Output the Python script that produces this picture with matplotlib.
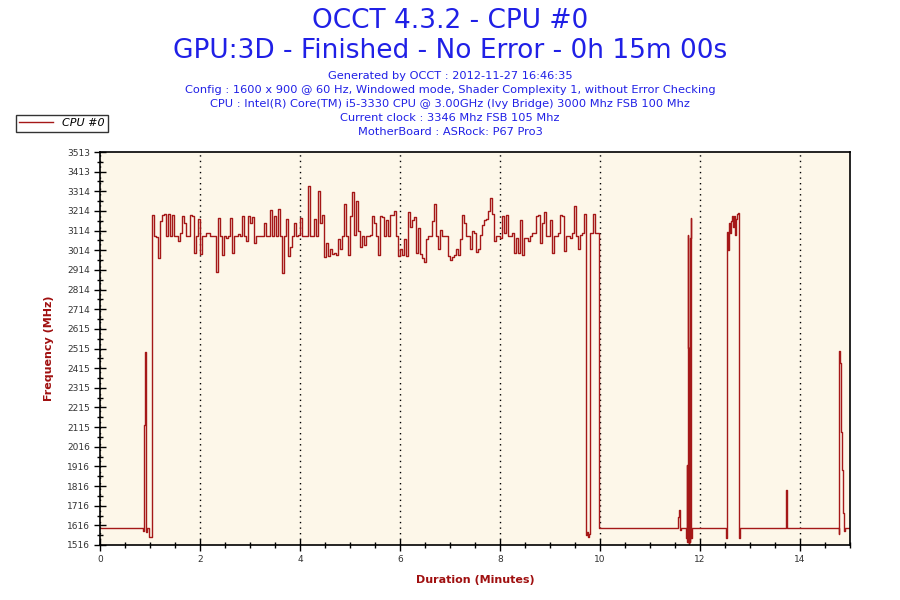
import numpy as np
import matplotlib.pyplot as plt
from matplotlib.ticker import FixedLocator, MultipleLocator

# Ramp-up at the start of the test (minutes, MHz)
start_min = [0.00, 0.86, 0.87, 0.89, 0.91, 0.92, 0.93, 0.98, 1.03]
start_mhz = [1600, 1585, 2126, 2498, 2314, 1580, 1600, 1555, 2959]

# Loaded part of the run, one reading every 0.04 min starting at 1.04 min
busy_start = 1.04
busy_step = 0.04
busy_mhz = [
    3193, 3085, 3080, 2975, 3160, 3193, 3200, 3085, 3200, 3085,
    3195, 3085, 3085, 3060, 3100, 3190, 3150, 3085, 3085, 3195,
    3190, 3000, 3085, 3175, 2995, 3085, 3085, 3100, 3100, 3085,
    3085, 3085, 2905, 3180, 3085, 2990, 3085, 3075, 3085, 3180,
    3000, 3085, 3085, 3095, 3085, 3190, 3085, 3060, 3190, 3150,
    3185, 3050, 3085, 3085, 3085, 3085, 3150, 3085, 3085, 3220,
    3085, 3190, 3085, 3225, 3085, 2900, 3085, 3175, 2985, 3030,
    3085, 3150, 3085, 3090, 3180, 3085, 3085, 3085, 3340, 3085,
    3085, 3175, 3085, 3315, 3150, 3195, 2980, 3050, 2985, 3020,
    2995, 3000, 2990, 3070, 3020, 3085, 3250, 3085, 2990, 3190,
    3310, 3090, 3265, 3110, 3030, 3085, 3040, 3085, 3085, 3090,
    3190, 3150, 3085, 2990, 3190, 3185, 3085, 3170, 3085, 3195,
    3195, 3215, 3085, 2985, 3020, 2990, 3070, 2985, 3210, 3130,
    3170, 3185, 3000, 3125, 2995, 2975, 2955, 3070, 3085, 3085,
    3160, 3250, 3085, 3020, 3115, 3085, 3085, 3085, 2985, 2965,
    2980, 2990, 3020, 2990, 3070, 3195, 3150, 3085, 3085, 3020,
    3110, 3100, 3005, 3020, 3090, 3140, 3170, 3175, 3215, 3280,
    3200, 3060, 3085, 3085, 3075, 3190, 3100, 3195, 3085, 3085,
    3100, 3000, 3075, 3000, 3165, 2990, 3075, 3075, 3060, 3085,
    3100, 3100, 3190, 3195, 3050, 3150, 3210, 3085, 3085, 3170,
    3000, 3085, 3085, 3100, 3195, 3190, 3010, 3085, 3085, 3075,
    3100, 3240, 3085, 3020, 3090, 3100, 3200,
]

# Drop-off and short bursts afterwards (minutes, MHz)
tail_min = [9.72, 9.73, 9.75, 9.77, 9.79, 9.80, 9.85, 9.89, 9.97, 9.98,
            11.55, 11.57, 11.59, 11.60, 11.61,
            11.72, 11.73, 11.74, 11.75, 11.76, 11.77, 11.78, 11.79, 11.80,
            11.81, 11.82, 11.83,
            12.52, 12.53, 12.54, 12.56, 12.58, 12.60, 12.62, 12.64, 12.66,
            12.68, 12.70, 12.72, 12.74, 12.76, 12.77, 12.78, 12.79,
            13.71, 13.72, 13.73, 13.74,
            14.77, 14.78, 14.80, 14.82, 14.84, 14.86, 14.88, 14.90, 15.00]
tail_mhz = [1565, 1580, 1555, 1570, 2770, 3100, 3200, 3100, 2160, 1600,
            1660, 1695, 1600, 1590, 1600,
            1550, 1920, 1530, 3090, 2515, 1520, 2515, 1530, 3075,
            3180, 1550, 1600,
            1550, 1650, 3108, 3016, 3150, 3100, 3160, 3186, 3130,
            3186, 3090, 3175, 3200, 3205, 2238, 1550, 1600,
            1643, 1796, 1699, 1600,
            1572, 2502, 2441, 2092, 1897, 1680, 1585, 1600, 1600]

y_labels = ["1516", "1616", "1716", "1816", "1916", "2016", "2115", "2215",
            "2315", "2415", "2515", "2615", "2714", "2814", "2914", "3014",
            "3114", "3214", "3314", "3413", "3513"]

title_lines = ["OCCT 4.3.2 - CPU #0",
               "GPU:3D - Finished - No Error - 0h 15m 00s"]
info_lines = ["Generated by OCCT : 2012-11-27 16:46:35",
              "Config : 1600 x 900 @ 60 Hz, Windowed mode, Shader Complexity 1, without Error Checking",
              "CPU : Intel(R) Core(TM) i5-3330 CPU @ 3.00GHz (Ivy Bridge) 3000 Mhz FSB 100 Mhz",
              "Current clock : 3346 Mhz FSB 105 Mhz",
              "MotherBoard : ASRock: P67 Pro3"]

busy_min = [busy_start + busy_step * k for k in range(len(busy_mhz))]
t = np.array(start_min + busy_min + tail_min)
f = np.array(start_mhz + busy_mhz + tail_mhz)

line_col = '#a51818'
label_col = '#a01010'
blue = '#2020e6'

fig = plt.figure(figsize=(9, 6), dpi=100)
ax = fig.add_axes([100 / 900, 1 - 545 / 600, 750 / 900, 393 / 600])
ax.set_facecolor('#fdf7e9')

ax.plot(t, f, drawstyle='steps-post', color=line_col, linewidth=1.0, label='CPU #0')

ax.set_xlim(0, 15)
ax.set_ylim(1516, 3513)
ax.xaxis.set_major_locator(MultipleLocator(2))
ax.xaxis.set_minor_locator(MultipleLocator(0.5))
yt = np.linspace(1516, 3513, len(y_labels))
ax.yaxis.set_major_locator(FixedLocator(yt))
ax.set_yticklabels(y_labels)
ax.yaxis.set_minor_locator(FixedLocator((yt[:-1] + yt[1:]) / 2))

ax.tick_params(which='major', direction='inout', length=8.5, width=1,
               labelsize=6.5, labelcolor='#333333', pad=3)
ax.tick_params(which='minor', direction='inout', length=4.8, width=1)
for s in ax.spines.values():
    s.set_linewidth(1.2)

ax.grid(axis='x', which='major', color='black', linestyle=(0, (1, 3)), linewidth=1)

ax.set_xlabel('Duration (Minutes)', color=label_col, fontweight='bold', fontsize=8, labelpad=8)
ax.set_ylabel('Frequency (MHz)', color=label_col, fontweight='bold', fontsize=8, labelpad=9)

fig.text(0.5, 1 - 21 / 600, title_lines[0], ha='center', va='center', fontsize=19, color=blue)
fig.text(0.5, 1 - 51 / 600, title_lines[1], ha='center', va='center', fontsize=19, color=blue)
for k, s in enumerate(info_lines):
    fig.text(0.5, 1 - (76 + 14 * k) / 600, s, ha='center', va='center', fontsize=8.2, color=blue)

leg = ax.legend(loc='upper left', bbox_to_anchor=(16 / 900, 1 - 115 / 600),
                bbox_transform=fig.transFigure, frameon=True, fancybox=False,
                edgecolor='black', borderpad=0.3, handlelength=3,
                prop={'style': 'italic', 'size': 8}, borderaxespad=0)
leg.get_frame().set_linewidth(1)

plt.savefig('out.png', dpi=100)
